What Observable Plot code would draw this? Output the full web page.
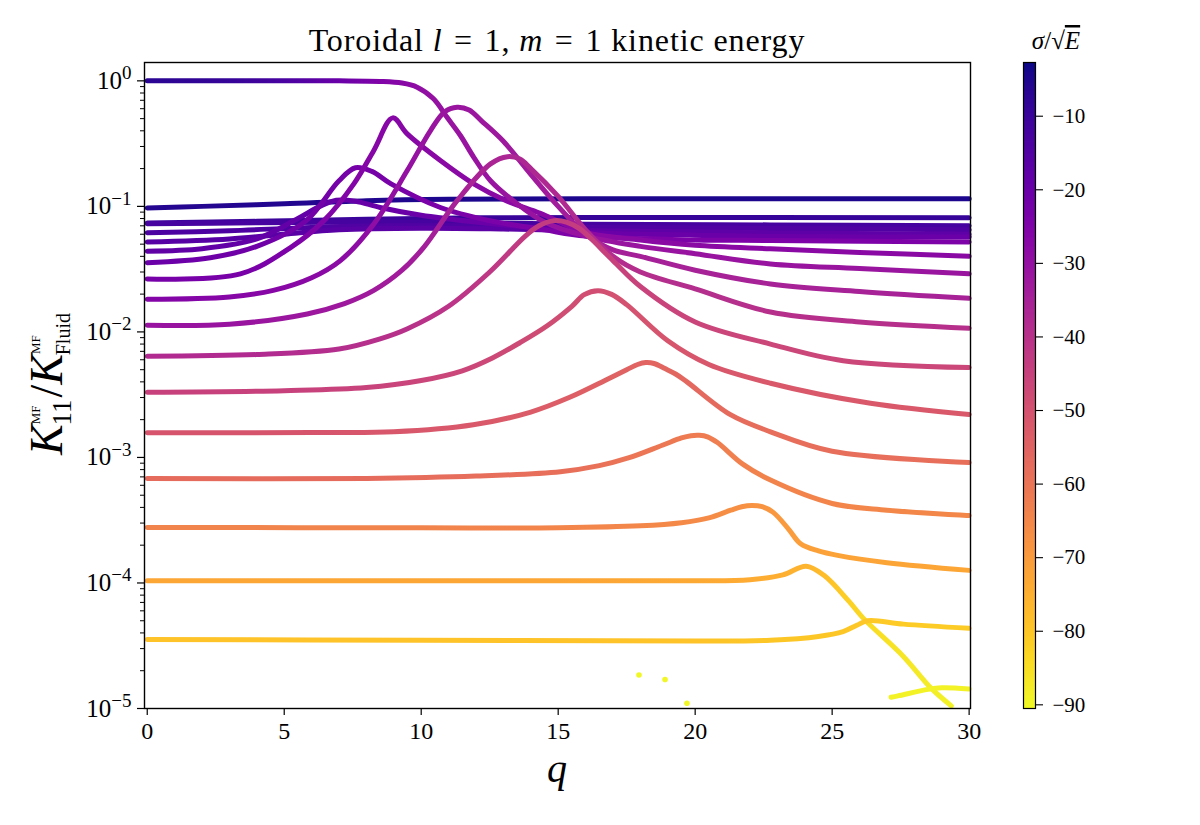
<!DOCTYPE html>
<html>
<head>
<meta charset="utf-8">
<script src="https://cdn.jsdelivr.net/npm/d3@7"></script>
<script src="https://cdn.jsdelivr.net/npm/@observablehq/plot@0.6"></script>
<style>
  html, body { margin: 0; padding: 0; background: #fff; overflow: hidden; }
  #chart { position: relative; width: 1200px; height: 825px; }
  #chart svg { position: absolute; top: 0; }
</style>
</head>
<body>
<div id="chart"></div>
<script>
// Each mode is a list of [q, K11/KFluid, sigma/sqrt(E)] samples along the branch.
const mode01 = [[0,0.097,-6],[2,0.100,-6],[5,0.105,-5.5],[8,0.111,-5.5],[11,0.114,-5],[16,0.115,-5],[30,0.115,-5]];
const mode02 = [[0,0.0736,-10.5],[4,0.076,-10.5],[8,0.079,-10],[12,0.081,-10],[16,0.0815,-9.5],[30,0.081,-9.5]];
const mode03 = [[0,0.0728,-12.5],[4,0.074,-12.5],[8,0.075,-12.5],[12,0.074,-12.5],[16,0.072,-12.5],[22.75,0.0712,-12.5],[30,0.070,-12.5]];
const mode04 = [[0,0.0616,-14],[3,0.064,-14],[6,0.068,-14.5],[9,0.070,-14.5],[12,0.070,-15],[16,0.068,-15],[22.75,0.0666,-15],[30,0.065,-15]];
const mode05 = [[0,0.052,-16],[3,0.055,-16],[5,0.060,-16.5],[7,0.065,-16.5],[10,0.067,-17],[13,0.066,-17],[16,0.064,-17.5],[22.75,0.0615,-17.5],[30,0.060,-17.5]];
const mode06 = [[0,0.044,-18],[2,0.046,-18],[4,0.055,-18.5],[5.5,0.080,-19],[6.3,0.100,-19],[6.9,0.112,-19.5],[7.6,0.110,-19.5],[8.5,0.098,-20],[10,0.085,-20],[12,0.075,-20],[14,0.068,-20.5],[16,0.062,-20.5],[20,0.059,-20.5],[22.75,0.0575,-20.5],[30,0.057,-20.5]];
const mode07 = [[0,0.0356,-20.5],[2.3,0.039,-21],[4,0.048,-21.5],[5.8,0.077,-22],[7,0.160,-22.5],[7.6,0.203,-23],[8.2,0.190,-23],[8.9,0.151,-23.5],[10.7,0.098,-24],[12.5,0.077,-24],[14.5,0.065,-24.5],[16,0.058,-24.5],[20,0.054,-24.5],[22.75,0.0535,-24.5],[30,0.052,-24.5]];
const mode08 = [[0,0.0264,-23],[3.4,0.029,-23.5],[5.23,0.047,-24.5],[6.45,0.077,-25],[7.54,0.151,-26],[8.27,0.279,-26.5],[8.96,0.507,-27],[9.49,0.378,-27],[10.7,0.232,-27.5],[11.9,0.152,-27.5],[13.1,0.111,-27.5],[14.35,0.088,-27.5],[16,0.062,-27.5],[18,0.054,-27.5],[20,0.049,-27.5],[22.75,0.0459,-27.5],[26,0.043,-27.5],[30,0.040,-27.5]];
const mode09 = [[0,1.0,-7],[3,1.0,-9],[5,1.0,-13],[7,1.0,-20],[8.5,0.99,-25],[9.3,0.96,-27],[9.85,0.89,-29],[10.45,0.72,-30],[10.95,0.51,-30.5],[11.43,0.367,-31],[11.92,0.246,-31],[12.53,0.16,-31],[13.5,0.105,-31],[14.5,0.075,-31],[16,0.058,-31],[18,0.048,-31],[20,0.042,-31],[22.75,0.0348,-31],[26,0.032,-31.5],[30,0.029,-31.5]];
const mode10 = [[0,0.0182,-26],[3,0.019,-26.5],[4.6,0.0214,-27],[6,0.027,-27.5],[7.05,0.037,-28],[8.27,0.0725,-29],[9.49,0.193,-30],[10.34,0.402,-31],[10.85,0.565,-31.3],[11.31,0.616,-31.5],[11.75,0.585,-31.8],[12.2,0.48,-32],[13,0.33,-32.5],[14,0.18,-33],[15,0.10,-33.5],[16,0.06,-34],[17,0.045,-34.5],[18,0.040,-34.5],[20,0.031,-35],[22.75,0.0241,-35],[26,0.021,-35],[30,0.0185,-35]];
const mode11 = [[0,0.0113,-31],[3,0.0115,-31],[5.84,0.0139,-32],[7.2,0.0168,-32.5],[8.27,0.0214,-33],[9.3,0.031,-33.5],[10.1,0.0474,-34],[11.31,0.111,-35],[12.53,0.218,-36],[13.15,0.249,-36.5],[13.6,0.238,-36.8],[14,0.20,-37],[15,0.12,-37.5],[16,0.065,-38],[17,0.040,-38.5],[18,0.030,-39],[20,0.022,-39],[22.75,0.0144,-39.5],[26,0.012,-39.5],[30,0.0107,-39.5]];
const mode12 = [[0,0.0064,-38],[4,0.0066,-38],[7,0.0073,-39],[8.5,0.0088,-39.5],[9.5,0.0106,-40],[11,0.016,-41],[12.5,0.030,-42],[13.8,0.058,-43],[14.3,0.070,-43.2],[14.85,0.077,-43.5],[15.3,0.075,-43.7],[15.8,0.066,-44],[17,0.037,-45],[18,0.023,-45.5],[20,0.012,-46],[22.75,0.008,-46.5],[25.4,0.0059,-46.5],[30,0.0052,-46.5]];
const mode13 = [[0,0.0033,-45],[5,0.0034,-45],[8,0.0036,-45.5],[10,0.0041,-46],[11.5,0.0049,-46.5],[12.6,0.0062,-47],[13.6,0.0082,-47.5],[14.6,0.0112,-48],[15.5,0.0160,-48.5],[15.95,0.0198,-48.8],[16.45,0.0213,-49],[16.95,0.0199,-49.5],[17.5,0.0165,-50],[19,0.0085,-51],[20.5,0.0055,-51.5],[22.75,0.0039,-52],[26.4,0.0027,-52],[30,0.0022,-52]];
const mode14 = [[0,0.00157,-51],[6,0.00158,-51],[9,0.0016,-51.5],[11.9,0.00182,-52],[14,0.0023,-53],[15.4,0.0030,-53.5],[16.8,0.0042,-54.5],[17.5,0.0050,-55],[17.9,0.0055,-55.2],[18.2,0.0057,-55.5],[18.5,0.0056,-55.8],[18.9,0.0051,-56],[19.3,0.0046,-56.2],[19.7,0.0040,-56.5],[21.27,0.0022,-57.5],[22.75,0.0016,-58],[25,0.00112,-58],[30,0.00091,-58.5]];
const mode15 = [[0,0.00068,-57.5],[8,0.00068,-57.5],[12,0.00071,-58],[15.08,0.00077,-58.5],[16.5,0.00086,-59],[17.56,0.00099,-60],[18.8,0.00125,-61],[19.5,0.00143,-61.5],[19.85,0.00149,-61.8],[20.15,0.0015,-62],[20.45,0.00146,-62.3],[20.8,0.00132,-62.5],[21.75,0.00088,-63.5],[22.75,0.00066,-64],[25,0.00043,-64.5],[27,0.00038,-65],[30,0.000344,-65]];
const mode16 = [[0,0.000277,-64],[10,0.000275,-64],[15,0.000275,-64.5],[18,0.000285,-65],[19.5,0.000302,-65.5],[20.5,0.00033,-66],[21.3,0.00038,-67],[21.7,0.000405,-67.5],[22.07,0.000415,-68],[22.45,0.000405,-68.5],[22.85,0.000365,-69],[23.4,0.00027,-70],[23.85,0.000205,-71],[24.5,0.00018,-71.5],[25.2,0.000166,-72],[27,0.000145,-72.5],[30,0.000126,-73]];
const mode17 = [[0,0.000104,-73],[15,0.000104,-73],[20,0.000104,-73.5],[22,0.000106,-74],[23.2,0.000116,-75],[24.05,0.000136,-76],[24.7,0.000115,-78],[25.6,0.000072,-82],[26.15,0.000052,-84],[27.6,0.000026,-86.5],[28.6,0.0000146,-88],[29.35,0.0000105,-89]];
const mode18 = [[0,0.0000355,-79.5],[10,0.000035,-79.5],[20,0.0000345,-79.5],[22.75,0.000035,-80],[24.5,0.0000375,-80],[25.4,0.000041,-80],[25.9,0.000046,-80.5],[26.3,0.00005,-80.5],[27.6,0.000047,-81],[30,0.0000435,-81]];
const mode19 = [[27.15,0.0000123,-89],[27.4,0.0000126,-89],[28.5,0.0000142,-89],[29,0.0000146,-89],[30,0.0000143,-89]];
const isolatedPoints = [[17.95,0.0000185,-90],[18.9,0.000017,-90],[19.7,0.000011,-90]];

const xTicks = [0, 5, 10, 15, 20, 25, 30];
const yMajorTicks = [1e-5, 1e-4, 1e-3, 1e-2, 1e-1, 1];
const sigmaTicks = [-90, -80, -70, -60, -50, -40, -30, -20, -10];
const sigmaDomain = [-90.5, -2.7];

const modes = [mode01, mode02, mode03, mode04, mode05, mode06, mode07, mode08, mode09, mode10,
               mode11, mode12, mode13, mode14, mode15, mode16, mode17, mode18, mode19];
const yMinorTicks = yMajorTicks.slice(0, -1).flatMap(p => [2, 3, 4, 5, 6, 7, 8, 9].map(m => m * p));

const serif = "'Liberation Serif', 'DejaVu Serif', serif";
const colorOptions = {type: "linear", domain: sigmaDomain, scheme: "plasma", reverse: true};

// Horizontal gradients so each branch changes colour with sigma along q.
function branchGradients(index, scales) {
  const defs = d3.create("svg:defs");
  modes.forEach((m, i) => {
    const q0 = m[0][0], q1 = m[m.length - 1][0];
    const g = defs.append("linearGradient")
      .attr("id", `branch-${i}`)
      .attr("gradientUnits", "userSpaceOnUse")
      .attr("x1", scales.x(q0)).attr("x2", scales.x(q1))
      .attr("y1", 0).attr("y2", 0);
    m.forEach(([q, , s]) => g.append("stop")
      .attr("offset", (q - q0) / (q1 - q0))
      .attr("stop-color", scales.color(s)));
  });
  return defs.node();
}

const signed = e => (e < 0 ? "\u2212" : "") + Math.abs(e);

const main = Plot.plot({
  width: 1200,
  height: 825,
  marginLeft: 144,
  marginRight: 230,
  marginTop: 62,
  marginBottom: 117,
  style: {fontFamily: serif, color: "black", background: "white"},
  x: {domain: [-0.1, 30.05], label: null},
  y: {type: "log", domain: [1e-5, 1.4], label: null},
  color: colorOptions,
  marks: [
    branchGradients,
    ...modes.map((m, i) => Plot.line(m, {
      x: d => d[0], y: d => d[1],
      curve: "catmull-rom",
      stroke: `url(#branch-${i})`,
      strokeWidth: 5,
      strokeLinecap: "round",
      strokeLinejoin: "round"
    })),
    Plot.dot(isolatedPoints, {x: d => d[0], y: d => d[1], fill: d => d[2], r: 2.8}),
    Plot.frame({stroke: "black", strokeWidth: 1.4}),
    Plot.axisX({ticks: xTicks, tickSize: 7, tickPadding: 6, fontSize: 24, strokeWidth: 1.2}),
    Plot.axisY({ticks: yMajorTicks, tickSize: 7, tickPadding: 6, fontSize: 25, strokeWidth: 1.2,
                tickFormat: d => String(Math.round(Math.log10(d)))}),
    Plot.axisY({ticks: yMinorTicks, tickSize: 4, strokeWidth: 1, tickFormat: () => ""})
  ]
});

const svg = d3.select(main);

// Power-of-ten tick labels with raised exponents.
svg.selectAll('g[aria-label="y-axis tick label"] text').each(function () {
  const t = d3.select(this);
  const raw = t.text();
  if (raw === "") return;
  const e = +raw;
  t.text(null);
  t.append("tspan").text("10");
  t.append("tspan").attr("dy", "-0.5em").attr("font-size", "0.76em").text(signed(e));
});

// Title
const title = svg.append("text")
  .attr("x", 557).attr("y", 51)
  .attr("text-anchor", "middle")
  .attr("letter-spacing", "0.9px")
  .attr("font-family", serif).attr("font-size", 32).attr("fill", "black");
title.append("tspan").text("Toroidal ");
title.append("tspan").attr("font-style", "italic").text("l");
title.append("tspan").text("\u2004=\u20041, ");
title.append("tspan").attr("font-style", "italic").text("m");
title.append("tspan").text("\u2004=\u20041 kinetic energy");

// x label
svg.append("text")
  .attr("x", 557).attr("y", 782)
  .attr("text-anchor", "middle")
  .attr("font-family", serif).attr("font-style", "italic").attr("font-size", 40)
  .attr("fill", "black").text("q");

// y label: K^MF_11 / K^MF_Fluid
const ylab = svg.append("text")
  .attr("transform", "translate(62,384) rotate(-90)")
  .attr("text-anchor", "middle")
  .attr("font-family", serif).attr("fill", "black");
ylab.append("tspan").attr("font-style", "italic").attr("font-size", 46).text("K");
ylab.append("tspan").attr("font-size", 13).attr("dy", -22).text("MF");
ylab.append("tspan").attr("font-size", 27).attr("dx", -20).attr("dy", 31).text("11");
ylab.append("tspan").attr("font-size", 46).attr("dx", 2).attr("dy", -9).text("/");
ylab.append("tspan").attr("font-style", "italic").attr("font-size", 46).text("K");
ylab.append("tspan").attr("font-size", 13).attr("dy", -22).text("MF");
ylab.append("tspan").attr("font-size", 20).attr("dx", -20).attr("dy", 30).text("Fluid");

// Colour bar
const bar = Plot.plot({
  width: 200,
  height: 825,
  marginLeft: 23,
  marginRight: 165,
  marginTop: 62,
  marginBottom: 117,
  style: {fontFamily: serif, color: "black", background: "transparent"},
  x: {domain: [0, 1], axis: null},
  y: {domain: sigmaDomain, label: null},
  color: colorOptions,
  marks: [
    Plot.raster({x1: 0, x2: 1, y1: sigmaDomain[0], y2: sigmaDomain[1],
                 fill: (x, y) => y, width: 1, height: 400}),
    Plot.frame({stroke: "black", strokeWidth: 1.2}),
    Plot.axisY({anchor: "right", ticks: sigmaTicks, tickSize: 7, tickPadding: 10, fontSize: 21,
                strokeWidth: 1.1, tickFormat: d => signed(d)})
  ]
});
const barSvg = d3.select(bar);
const barLab = barSvg.append("text")
  .attr("x", 56).attr("y", 49)
  .attr("text-anchor", "middle")
  .attr("font-family", serif).attr("font-size", 25).attr("fill", "black");
barLab.append("tspan").attr("font-style", "italic").text("\u03c3");
barLab.append("tspan").text("/\u221a");
barLab.append("tspan").attr("font-style", "italic").attr("text-decoration", "overline").text("E");

const chart = document.getElementById("chart");
chart.appendChild(main);
bar.style.left = "1000px";
chart.appendChild(bar);
</script>
</body>
</html>
